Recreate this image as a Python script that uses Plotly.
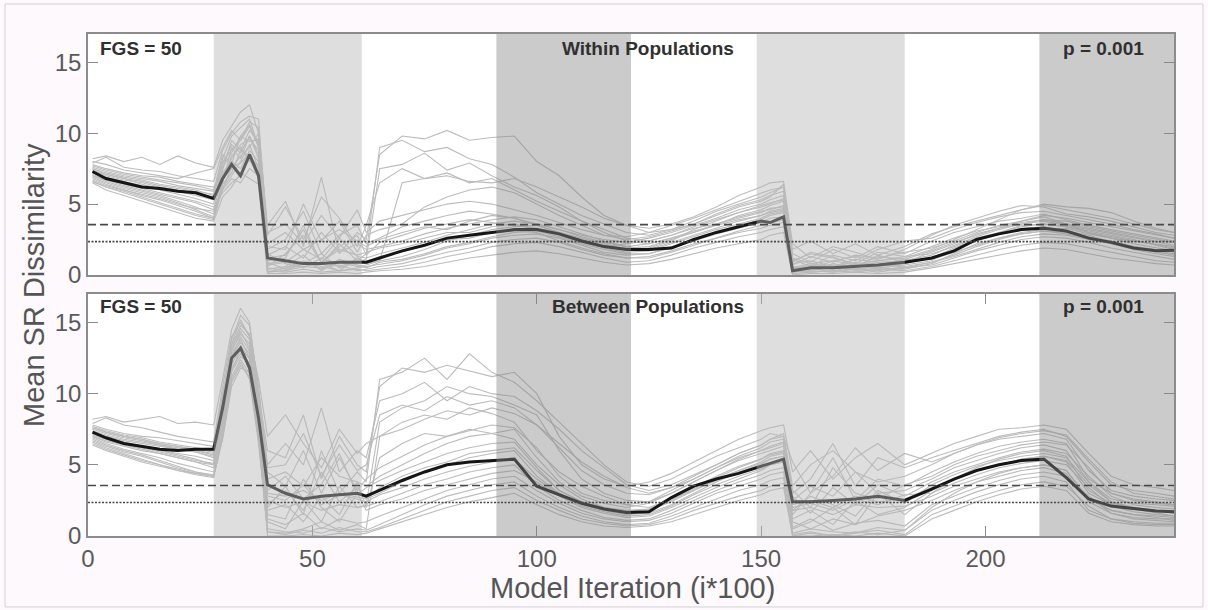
import plotly.graph_objects as go

# ---------------- data ----------------
iteration = [1, 4, 8, 12, 16, 20, 24,
             28, 30, 32, 34, 36, 38, 40,
             44, 48, 52, 56, 60,
             62, 65,
             70, 75, 80, 85, 90, 95, 100, 105, 110, 115, 120, 125, 130, 135, 140, 145, 150,
             152, 155, 157, 161, 166, 171, 176, 182,
             188, 193, 198, 203, 208, 213, 218, 223, 228, 233, 238, 242]

within_mean = [7.3, 6.8, 6.5, 6.2, 6.1, 5.9, 5.8,
               5.4, 6.8, 7.8, 7.0, 8.5, 7.0, 1.2,
               1.0, 0.8, 0.8, 0.9, 0.9,
               0.9, 1.2,
               1.7, 2.1, 2.6, 2.8, 3.0, 3.2, 3.2, 2.9, 2.4, 2.0, 1.8, 1.8, 1.9, 2.5, 3.0, 3.4, 3.8,
               3.7, 4.1, 0.3, 0.5, 0.5, 0.6, 0.7, 0.9,
               1.2, 1.7, 2.5, 2.9, 3.2, 3.3, 3.1, 2.6, 2.3, 1.9, 1.7, 1.75]

between_mean = [7.3, 6.9, 6.5, 6.3, 6.1, 6.0, 6.1,
                6.1, 9.0, 12.5, 13.2, 11.8, 8.3, 3.6,
                3.0, 2.6, 2.8, 2.9, 3.0,
                2.8, 3.2,
                3.9, 4.5, 5.0, 5.2, 5.3, 5.4, 3.5, 2.9, 2.3, 1.9, 1.65, 1.7, 2.7, 3.5, 4.0, 4.4, 4.9,
                5.1, 5.4, 2.4, 2.4, 2.5, 2.6, 2.8, 2.5,
                3.3, 4.0, 4.6, 5.0, 5.3, 5.4, 4.1, 2.6, 2.1, 1.9, 1.75, 1.7]

within_runs = [
    [8.2, 8.4, 8.0, 8.3, 7.8, 8.4, 7.9, 7.6, 9.5, 10.5, 11.5, 12.0, 10.0, 3.5, 5.2, 2.0, 6.9, 1.5, 3.0, 2.5, 8.5,
     9.8, 9.6, 10.2, 9.5, 9.7, 9.8, 8.0, 7.0, 5.5, 4.2, 3.5, 3.0, 3.2, 3.8, 4.5, 5.0, 5.5,
     5.8, 6.2, 1.2, 0.8, 1.0, 1.3, 1.0, 1.2, 1.8, 2.5, 3.2, 3.9, 4.6, 5.0, 4.8, 4.7, 4.4, 3.8, 3.3, 3.0],
    [7.5, 7.2, 6.9, 6.7, 6.4, 6.2, 6.0, 5.6, 8.0, 8.8, 9.5, 10.5, 9.0, 1.0, 1.2, 3.5, 0.8, 2.2, 1.0, 1.5, 9.0,
     9.5, 8.7, 9.0, 8.2, 7.8, 6.9, 5.8, 5.0, 4.2, 3.6, 3.0, 2.8, 3.2, 3.6, 4.2, 4.8, 5.2,
     5.5, 6.4, 0.6, 0.3, 0.8, 0.5, 1.4, 0.9, 1.6, 2.2, 2.9, 3.3, 3.8, 4.1, 3.6, 3.0, 2.6, 2.4, 2.2, 2.0],
    [7.0, 6.6, 6.2, 5.9, 5.6, 5.2, 4.8, 4.3, 6.5, 9.0, 8.2, 9.8, 8.5, 0.5, 0.3, 0.8, 1.5, 0.5, 0.9, 1.1, 7.5,
     7.8, 8.6, 7.4, 7.9, 7.0, 6.2, 5.6, 4.8, 3.8, 3.2, 2.6, 2.4, 2.8, 3.4, 3.9, 4.4, 4.8,
     5.0, 5.4, 0.2, 0.6, 0.4, 0.8, 0.5, 0.7, 1.0, 1.8, 2.4, 3.0, 3.5, 3.6, 3.4, 3.1, 2.8, 2.5, 2.1, 1.8],
    [6.6, 6.2, 5.8, 5.4, 5.0, 4.6, 4.2, 3.9, 6.2, 7.0, 8.0, 9.2, 7.5, 0.2, 0.5, 1.0, 0.4, 0.9, 0.6, 0.7, 1.0,
     6.5, 6.8, 7.2, 6.5, 6.8, 6.0, 5.2, 4.5, 3.8, 3.0, 2.4, 2.2, 2.6, 3.0, 3.6, 4.1, 4.5,
     4.6, 4.9, 0.5, 0.2, 0.3, 0.6, 0.9, 0.5, 0.9, 1.4, 2.0, 2.5, 2.9, 3.1, 3.0, 2.7, 2.4, 2.0, 1.7, 1.5],
    [7.8, 7.5, 7.2, 7.0, 6.9, 6.6, 6.4, 6.2, 7.2, 8.0, 7.5, 8.8, 8.0, 2.2, 3.0, 1.8, 2.5, 3.2, 2.4, 2.0, 2.5,
     3.0, 3.4, 3.2, 3.8, 4.2, 4.0, 3.5, 3.0, 2.5, 2.0, 2.2, 2.4, 2.8, 3.3, 3.6, 4.0, 4.4,
     4.7, 4.8, 1.0, 1.5, 1.2, 0.8, 1.6, 1.3, 2.0, 2.6, 3.1, 3.4, 3.7, 3.9, 3.6, 3.3, 3.0, 2.7, 2.4, 2.3],
    [7.2, 6.9, 6.6, 6.3, 6.0, 5.7, 5.4, 5.0, 7.4, 9.5, 8.8, 10.2, 9.4, 1.5, 0.8, 0.5, 1.2, 0.6, 1.0, 0.8, 1.0,
     1.3, 1.8, 2.4, 2.8, 3.2, 3.4, 3.5, 3.0, 2.5, 2.1, 1.9, 2.0, 2.5, 3.0, 3.5, 3.9, 4.2,
     4.4, 4.6, 0.4, 0.7, 0.5, 0.4, 0.6, 0.8, 1.2, 1.9, 2.5, 2.9, 3.3, 3.4, 3.1, 2.8, 2.3, 2.0, 1.8, 1.6],
    [7.4, 7.0, 6.7, 6.5, 6.2, 6.0, 5.8, 5.4, 6.8, 7.5, 8.4, 9.0, 10.0, 0.8, 1.0, 0.6, 0.8, 0.3, 0.5, 0.6, 0.8,
     1.0, 1.4, 1.9, 2.2, 2.6, 2.8, 2.9, 2.6, 2.1, 1.6, 1.4, 1.5, 1.9, 2.4, 2.9, 3.3, 3.7,
     4.0, 4.1, 0.3, 0.5, 0.2, 0.5, 0.3, 0.6, 0.9, 1.3, 1.8, 2.3, 2.7, 2.9, 2.8, 2.5, 2.2, 1.9, 1.6, 1.4],
    [6.9, 6.5, 6.1, 5.8, 5.5, 5.1, 4.6, 4.1, 6.0, 6.8, 6.5, 7.5, 7.0, 0.3, 0.2, 0.4, 0.2, 0.3, 0.4, 0.3, 0.4,
     0.6, 0.9, 1.3, 1.6, 2.0, 2.2, 2.3, 2.0, 1.6, 1.2, 0.9, 1.0, 1.4, 1.9, 2.3, 2.7, 3.0,
     3.2, 3.4, 0.1, 0.2, 0.3, 0.2, 0.4, 0.3, 0.6, 1.0, 1.4, 1.8, 2.1, 2.3, 2.2, 1.9, 1.6, 1.3, 1.0, 0.9],
    [7.6, 7.3, 7.0, 6.8, 6.6, 6.3, 6.1, 5.9, 8.5, 7.8, 9.8, 9.4, 9.6, 1.8, 2.5, 4.5, 1.5, 2.8, 3.5, 2.2, 2.6,
     3.4, 3.8, 4.2, 4.5, 4.3, 4.0, 3.6, 3.2, 2.8, 2.5, 2.3, 2.6, 3.0, 3.5, 4.0, 4.6, 5.0,
     5.3, 5.6, 1.5, 0.9, 1.8, 1.2, 2.0, 1.5, 2.4, 3.0, 3.4, 3.8, 4.0, 4.3, 3.9, 3.5, 3.2, 2.9, 2.6, 2.4],
    [7.1, 6.7, 6.4, 6.1, 5.8, 5.5, 5.2, 4.8, 5.8, 6.5, 7.0, 8.2, 6.8, 0.6, 1.5, 2.8, 0.9, 1.8, 1.4, 1.6, 1.9,
     2.2, 2.6, 3.0, 3.0, 3.4, 3.6, 3.2, 2.8, 2.3, 1.9, 1.6, 1.7, 2.2, 2.7, 3.2, 3.6, 4.0,
     4.3, 4.5, 0.8, 1.0, 0.6, 1.1, 0.9, 1.0, 1.4, 2.1, 2.7, 3.2, 3.6, 3.8, 3.5, 3.2, 2.9, 2.6, 2.3, 2.1],
    [7.9, 8.3, 7.6, 7.4, 7.3, 7.0, 6.8, 6.6, 8.8, 10.0, 10.8, 11.2, 11.0, 2.8, 4.8, 2.5, 5.5, 4.0, 2.0, 3.5, 6.5,
     7.5, 6.8, 7.0, 6.6, 6.5, 6.8, 6.2, 5.5, 4.8, 4.0, 3.5, 3.3, 3.6, 4.1, 4.8, 5.6, 6.2,
     6.5, 6.6, 2.2, 1.2, 2.0, 1.6, 1.1, 1.8, 2.8, 3.5, 4.0, 4.5, 4.9, 4.8, 4.3, 4.1, 3.8, 3.4, 3.0, 2.8],
    [6.5, 6.0, 5.6, 5.2, 4.8, 4.4, 4.0, 3.8, 5.5, 6.2, 7.2, 6.8, 6.4, 0.1, 0.1, 0.2, 0.1, 0.2, 0.1, 0.2, 0.3,
     0.4, 0.6, 0.9, 1.2, 1.4, 1.6, 1.7, 1.5, 1.2, 0.9, 0.7, 0.8, 1.1, 1.5, 1.9, 2.2, 2.5,
     2.8, 3.0, 0.0, 0.1, 0.1, 0.2, 0.1, 0.2, 0.5, 0.8, 1.1, 1.4, 1.7, 1.9, 1.8, 1.5, 1.2, 1.0, 0.8, 0.7],
    [7.7, 7.4, 7.1, 6.9, 6.7, 6.5, 6.3, 6.0, 7.8, 9.2, 8.6, 9.8, 8.2, 1.4, 2.0, 1.2, 3.0, 1.6, 2.2, 1.8, 2.0,
     2.4, 2.9, 3.3, 3.6, 3.9, 4.1, 3.9, 3.4, 2.9, 2.4, 2.0, 2.2, 2.6, 3.1, 3.5, 4.2, 4.6,
     4.9, 5.2, 0.7, 1.3, 0.9, 1.4, 1.2, 1.6, 1.9, 2.4, 3.0, 3.5, 3.8, 4.2, 4.0, 3.7, 3.4, 3.1, 2.8, 2.6],
    [6.8, 6.4, 6.0, 5.6, 5.3, 4.9, 4.5, 4.0, 6.6, 8.4, 9.0, 8.0, 7.8, 0.4, 0.6, 1.4, 0.3, 1.1, 0.7, 0.5, 0.9,
     1.1, 1.5, 2.0, 2.3, 2.7, 3.0, 3.1, 2.7, 2.2, 1.8, 1.5, 1.5, 2.0, 2.5, 3.0, 3.5, 3.9,
     4.2, 4.4, 0.2, 0.4, 0.7, 0.3, 0.5, 0.4, 0.8, 1.5, 2.2, 2.6, 3.0, 3.2, 3.3, 2.9, 2.6, 2.2, 1.9, 1.7],
    [7.3, 7.1, 6.8, 6.6, 6.3, 6.1, 5.9, 5.7, 8.2, 9.8, 10.4, 11.0, 9.0, 2.0, 1.8, 5.0, 2.4, 3.8, 1.6, 2.8, 3.2,
     3.6, 4.8, 5.5, 6.0, 6.2, 5.8, 5.0, 4.2, 3.5, 2.8, 2.5, 2.7, 3.1, 3.6, 4.3, 4.9, 5.3,
     5.6, 5.9, 1.1, 0.6, 1.4, 1.0, 1.8, 2.4, 2.6, 3.2, 3.7, 4.1, 4.4, 4.5, 4.2, 3.9, 3.6, 3.2, 2.9, 2.6],
    [6.7, 6.3, 6.0, 5.7, 5.4, 5.0, 4.7, 4.5, 6.0, 7.6, 7.9, 8.6, 7.2, 0.9, 0.4, 0.9, 0.6, 0.3, 1.2, 0.9, 1.3,
     1.6, 2.1, 2.5, 2.6, 3.0, 3.1, 3.0, 2.4, 1.9, 1.5, 1.2, 1.3, 1.7, 2.2, 2.6, 3.1, 3.5,
     3.7, 3.9, 0.5, 0.8, 0.6, 0.9, 0.7, 1.1, 1.1, 1.6, 2.1, 2.6, 2.9, 3.1, 2.9, 2.6, 2.2, 1.8, 1.5, 1.3],
    [8.0, 7.8, 7.4, 7.2, 7.0, 6.8, 7.2, 7.5, 9.0, 10.2, 9.5, 10.8, 10.4, 3.0, 3.6, 2.2, 4.2, 2.6, 4.6, 3.0, 3.8,
     4.2, 4.6, 5.0, 5.2, 5.0, 4.6, 4.2, 3.7, 3.2, 2.8, 2.7, 3.0, 3.5, 4.0, 4.6, 5.2, 5.8,
     6.0, 6.2, 1.8, 2.4, 1.5, 2.2, 1.4, 2.0, 2.9, 3.4, 3.8, 4.2, 4.6, 4.9, 4.6, 4.3, 4.0, 3.6, 3.2, 3.0],
    [7.0, 6.7, 6.3, 6.0, 5.7, 5.4, 5.1, 4.6, 7.0, 8.2, 9.2, 9.6, 8.8, 0.7, 0.9, 1.8, 1.1, 2.6, 1.3, 1.2, 1.5,
     1.9, 2.3, 2.8, 3.2, 3.6, 3.8, 3.6, 3.2, 2.7, 2.3, 2.0, 1.8, 2.3, 2.8, 3.3, 3.8, 4.2,
     4.5, 4.7, 0.6, 0.4, 1.0, 0.7, 1.0, 1.3, 1.5, 2.0, 2.6, 3.0, 3.4, 3.6, 3.4, 3.0, 2.7, 2.4, 2.1, 1.9],
    [6.6, 6.2, 5.9, 5.5, 5.1, 4.7, 4.3, 4.0, 6.4, 7.2, 8.8, 8.4, 7.6, 0.2, 0.3, 0.6, 0.5, 0.7, 0.3, 0.4, 0.6,
     0.8, 1.2, 1.6, 1.9, 2.3, 2.5, 2.6, 2.3, 1.8, 1.4, 1.2, 1.2, 1.6, 2.1, 2.6, 3.0, 3.3,
     3.5, 3.7, 0.2, 0.3, 0.2, 0.4, 0.2, 0.5, 0.7, 1.2, 1.7, 2.1, 2.5, 2.7, 2.6, 2.3, 1.9, 1.6, 1.3, 1.1],
    [7.5, 7.1, 6.8, 6.4, 6.1, 5.9, 5.6, 5.3, 7.6, 8.6, 9.8, 10.6, 9.2, 1.2, 1.4, 3.2, 0.9, 2.0, 2.8, 1.4, 2.3,
     2.8, 3.3, 3.6, 3.9, 3.7, 3.5, 3.3, 3.0, 2.6, 2.2, 1.8, 1.9, 2.4, 3.2, 3.8, 4.4, 4.9,
     5.1, 5.3, 0.9, 1.6, 1.3, 0.6, 1.3, 1.1, 1.7, 2.3, 2.8, 3.3, 3.6, 3.9, 3.8, 3.4, 3.1, 2.8, 2.5, 2.3],
]

between_runs = [
    [8.2, 8.4, 8.0, 8.2, 8.4, 7.9, 8.0, 7.8, 11.0, 14.5, 16.0, 15.0, 10.0, 6.0, 5.5, 8.5, 4.0, 7.0, 5.0, 4.5, 10.5,
     11.8, 11.5, 12.0, 11.6, 11.2, 11.5, 10.0, 7.0, 5.0, 4.0, 3.5, 3.8, 4.4, 5.2, 6.0, 6.8, 7.4,
     7.6, 7.8, 4.5, 6.0, 4.0, 5.5, 6.5, 5.0, 5.8, 6.5, 7.0, 7.5, 7.6, 7.8, 7.5, 5.8, 4.2, 3.6, 3.4, 3.2],
    [7.6, 7.3, 7.0, 6.8, 6.5, 6.3, 6.0, 5.8, 9.5, 13.5, 15.2, 14.0, 9.0, 2.0, 3.5, 1.5, 6.0, 3.0, 4.5, 3.8, 11.0,
     11.5, 12.5, 11.0, 12.8, 11.5, 10.8, 9.5, 8.0, 6.5, 5.0, 3.8, 3.5, 4.0, 4.8, 5.6, 6.2, 6.8,
     7.2, 7.0, 1.5, 3.0, 5.5, 2.5, 4.0, 3.5, 4.5, 5.2, 5.8, 6.3, 6.6, 6.8, 6.5, 4.0, 3.0, 2.6, 2.4, 2.2],
    [7.2, 6.9, 6.6, 6.3, 6.0, 5.7, 5.4, 5.0, 8.5, 12.5, 14.0, 13.0, 8.0, 1.0, 0.5, 2.5, 1.0, 3.5, 2.0, 2.2, 8.0,
     9.0, 9.5, 10.5, 10.0, 9.8, 9.2, 8.5, 6.0, 4.0, 3.0, 2.5, 2.4, 3.0, 3.8, 4.6, 5.4, 6.0,
     6.2, 6.5, 0.5, 1.0, 2.0, 0.8, 3.0, 1.5, 3.0, 4.0, 4.8, 5.4, 5.8, 6.0, 5.6, 3.2, 2.3, 2.0, 1.8, 1.6],
    [6.8, 6.4, 6.0, 5.7, 5.3, 4.9, 4.5, 4.2, 7.5, 11.5, 13.2, 12.0, 7.0, 0.3, 0.2, 0.5, 1.0, 0.4, 0.8, 0.5, 7.0,
     8.0, 8.5, 8.2, 9.0, 8.6, 8.0, 6.0, 4.5, 3.5, 2.8, 2.2, 2.0, 2.6, 3.2, 4.0, 4.6, 5.2,
     5.6, 5.8, 0.0, 0.2, 0.0, 0.3, 0.1, 0.4, 2.0, 3.0, 3.8, 4.4, 4.8, 5.0, 4.6, 2.6, 1.8, 1.5, 1.3, 1.1],
    [7.8, 7.5, 7.2, 7.0, 6.9, 6.7, 6.5, 6.3, 10.0, 13.0, 14.2, 13.5, 9.5, 4.0, 4.5, 3.5, 5.5, 4.2, 3.8, 3.5, 4.2,
     5.0, 5.8, 6.5, 7.0, 7.2, 7.5, 5.5, 3.8, 2.8, 2.3, 2.0, 2.3, 3.0, 3.8, 4.6, 5.3, 5.8,
     6.0, 6.3, 2.5, 3.5, 2.8, 4.5, 3.0, 3.2, 4.0, 4.8, 5.3, 5.8, 6.2, 6.4, 6.0, 3.8, 2.6, 2.3, 2.2, 2.1],
    [7.3, 7.0, 6.7, 6.5, 6.3, 6.1, 5.9, 5.6, 9.0, 12.8, 13.8, 12.5, 8.5, 3.0, 2.8, 3.2, 2.5, 3.0, 2.7, 2.6, 3.0,
     3.8, 4.5, 5.0, 5.5, 5.8, 6.0, 4.2, 3.0, 2.2, 1.8, 1.5, 1.6, 2.2, 3.0, 3.8, 4.5, 5.0,
     5.4, 5.6, 2.2, 2.5, 2.0, 2.8, 2.4, 2.6, 3.4, 4.0, 4.6, 5.0, 5.4, 5.6, 5.2, 3.0, 2.2, 1.9, 1.8, 1.7],
    [7.0, 6.6, 6.3, 6.0, 5.8, 5.5, 5.2, 4.8, 8.0, 11.8, 12.8, 12.0, 7.5, 2.5, 2.0, 2.4, 1.8, 2.2, 2.0, 2.1, 2.4,
     3.0, 3.6, 4.0, 4.5, 4.8, 5.0, 3.5, 2.5, 1.8, 1.3, 1.1, 1.2, 1.8, 2.5, 3.2, 3.8, 4.3,
     4.6, 4.8, 1.8, 2.0, 1.5, 2.2, 2.0, 2.1, 2.8, 3.5, 4.0, 4.5, 4.8, 5.0, 4.6, 2.6, 1.8, 1.5, 1.4, 1.3],
    [6.6, 6.2, 5.8, 5.4, 5.0, 4.6, 4.3, 4.1, 7.0, 11.0, 12.2, 11.0, 6.5, 0.5, 0.3, 0.2, 0.6, 0.3, 0.5, 0.4, 0.8,
     1.5, 2.2, 2.8, 3.2, 3.6, 3.8, 2.8, 2.0, 1.4, 1.0, 0.8, 0.9, 1.4, 2.0, 2.6, 3.2, 3.6,
     3.9, 4.1, 0.2, 0.5, 0.3, 0.2, 0.6, 0.4, 1.8, 2.5, 3.1, 3.6, 4.0, 4.2, 3.8, 1.8, 1.2, 1.0, 0.9, 0.9],
    [7.5, 7.2, 6.9, 6.7, 6.4, 6.2, 6.0, 5.7, 9.8, 13.8, 15.5, 14.8, 10.5, 5.0, 6.5, 5.0, 9.0, 4.5, 6.0, 5.5, 9.5,
     10.0, 10.8, 9.5, 10.5, 10.0, 9.8, 8.8, 7.5, 6.0, 4.8, 3.6, 3.2, 3.6, 4.3, 5.0, 5.8, 6.4,
     6.8, 7.2, 3.5, 5.0, 6.0, 4.5, 3.8, 4.2, 5.0, 5.8, 6.4, 6.8, 7.0, 7.2, 6.8, 4.6, 3.2, 2.8, 2.6, 2.5],
    [7.1, 6.8, 6.4, 6.2, 5.9, 5.6, 5.3, 5.1, 8.2, 12.2, 13.0, 12.6, 8.0, 1.5, 1.2, 4.0, 2.0, 1.0, 3.0, 1.8, 2.2,
     2.6, 3.2, 3.6, 4.0, 4.4, 4.6, 3.8, 2.8, 2.0, 1.6, 1.3, 1.4, 2.0, 2.7, 3.4, 4.0, 4.6,
     5.0, 5.2, 1.0, 0.5, 1.2, 0.8, 1.4, 1.8, 2.5, 3.2, 3.8, 4.2, 4.6, 4.8, 4.4, 2.4, 1.6, 1.3, 1.2, 1.2],
    [7.9, 8.3, 7.8, 7.6, 7.3, 7.0, 6.8, 6.6, 10.5, 14.0, 15.0, 14.0, 11.0, 7.0, 8.5, 6.5, 4.8, 7.5, 5.8, 6.5, 7.0,
     7.5, 8.2, 8.8, 8.5, 9.0, 8.6, 7.8, 6.5, 5.2, 4.2, 3.4, 3.0, 3.4, 4.0, 4.8, 5.6, 6.2,
     6.6, 6.8, 3.0, 4.0, 6.5, 3.5, 5.5, 4.8, 5.5, 6.0, 6.5, 7.0, 7.3, 7.5, 7.0, 5.2, 3.6, 3.2, 3.0, 2.8],
    [6.4, 6.0, 5.6, 5.2, 4.9, 4.6, 4.4, 4.2, 6.8, 10.5, 11.8, 11.5, 7.2, 0.0, 0.0, 0.1, 0.0, 0.2, 0.1, 0.2, 0.5,
     1.0, 1.5, 2.0, 2.4, 2.7, 3.0, 2.2, 1.5, 1.0, 0.7, 0.6, 0.7, 1.0, 1.5, 2.0, 2.5, 2.9,
     3.2, 3.4, 0.0, 0.0, 0.1, 0.0, 0.2, 0.0, 1.2, 1.8, 2.4, 2.9, 3.3, 3.5, 3.2, 1.6, 1.0, 0.8, 0.7, 0.7],
    [7.7, 7.4, 7.1, 6.9, 6.6, 6.4, 6.2, 6.0, 9.2, 13.2, 14.6, 13.8, 9.8, 4.5, 3.5, 6.0, 3.0, 5.5, 3.2, 4.0, 4.8,
     5.6, 6.4, 7.0, 7.4, 7.8, 7.6, 6.2, 4.2, 3.0, 2.5, 2.2, 2.4, 3.2, 4.0, 4.8, 5.5, 6.0,
     6.3, 6.6, 3.2, 2.0, 4.8, 3.0, 2.6, 3.6, 4.2, 5.0, 5.6, 6.0, 6.4, 6.6, 6.4, 4.8, 3.0, 2.5, 2.3, 2.2],
    [6.9, 6.5, 6.1, 5.8, 5.5, 5.1, 4.8, 4.5, 7.8, 11.6, 12.6, 12.2, 7.8, 1.8, 2.2, 1.0, 2.8, 1.5, 3.8, 2.0, 5.5,
     6.5, 7.2, 7.0, 7.5, 7.2, 6.8, 5.0, 3.6, 2.6, 2.0, 1.8, 1.9, 2.5, 3.3, 4.1, 4.8, 5.4,
     5.7, 5.9, 1.2, 1.8, 0.8, 2.5, 1.5, 2.0, 3.2, 4.0, 4.6, 5.0, 5.4, 5.6, 5.3, 3.6, 2.4, 1.9, 1.6, 1.4],
    [7.4, 7.1, 6.8, 6.6, 6.4, 6.1, 5.9, 5.5, 9.2, 13.0, 14.4, 13.2, 9.0, 3.2, 4.2, 2.6, 3.6, 5.8, 2.9, 3.4, 3.9,
     4.6, 5.2, 5.8, 6.2, 6.5, 6.6, 4.8, 3.2, 2.4, 2.0, 1.7, 1.9, 2.6, 3.4, 4.2, 4.9, 5.4,
     5.8, 6.0, 2.8, 1.6, 3.4, 2.2, 3.6, 2.8, 3.8, 4.5, 5.0, 5.5, 5.9, 6.1, 5.8, 4.2, 2.8, 2.2, 2.0, 1.9],
    [6.7, 6.3, 5.9, 5.6, 5.2, 4.8, 4.5, 4.3, 7.2, 11.2, 12.4, 11.4, 6.8, 1.2, 0.8, 1.6, 0.5, 1.2, 0.9, 1.0, 1.4,
     2.0, 2.6, 3.2, 3.6, 4.0, 4.2, 3.2, 2.3, 1.6, 1.2, 1.0, 1.1, 1.6, 2.3, 3.0, 3.5, 4.0,
     4.3, 4.5, 0.6, 1.2, 0.4, 0.9, 1.1, 0.7, 2.2, 2.8, 3.4, 3.9, 4.3, 4.5, 4.2, 2.8, 1.6, 1.2, 1.1, 1.0],
    [7.6, 7.3, 7.0, 6.8, 6.5, 6.3, 6.1, 5.9, 9.5, 13.4, 14.8, 14.2, 9.8, 4.8, 5.0, 7.2, 4.2, 6.4, 4.6, 5.0, 8.5,
     9.2, 8.8, 9.8, 9.2, 9.5, 9.0, 7.8, 6.2, 4.6, 3.6, 3.0, 2.9, 3.4, 4.2, 5.0, 5.8, 6.4,
     6.8, 7.0, 5.2, 3.0, 4.2, 6.2, 4.6, 5.8, 5.2, 5.8, 6.4, 6.9, 7.2, 7.4, 7.1, 5.4, 3.8, 3.0, 2.8, 2.6],
    [7.2, 6.9, 6.5, 6.2, 6.0, 5.8, 5.6, 5.3, 8.8, 12.6, 13.6, 12.8, 8.4, 2.2, 3.2, 1.8, 4.5, 2.4, 3.4, 2.6, 3.4,
     4.2, 4.8, 5.2, 5.8, 6.0, 6.2, 4.6, 3.2, 2.4, 1.9, 1.6, 1.8, 2.4, 3.2, 3.9, 4.6, 5.1,
     5.4, 5.6, 1.8, 2.8, 2.2, 1.4, 3.2, 2.3, 3.6, 4.3, 4.9, 5.3, 5.6, 5.8, 5.5, 3.8, 2.4, 2.0, 1.8, 1.6],
    [6.5, 6.1, 5.7, 5.3, 5.0, 4.7, 4.4, 4.2, 6.9, 10.8, 12.0, 11.2, 6.8, 0.3, 0.1, 0.4, 0.2, 0.6, 0.3, 0.3, 0.6,
     1.2, 1.8, 2.4, 2.8, 3.2, 3.4, 2.5, 1.8, 1.2, 0.9, 0.7, 0.8, 1.2, 1.8, 2.3, 2.8, 3.2,
     3.5, 3.7, 0.1, 0.3, 0.0, 0.2, 0.4, 0.1, 1.5, 2.1, 2.7, 3.2, 3.6, 3.8, 3.5, 2.1, 1.2, 0.9, 0.8, 0.8],
    [7.0, 6.7, 6.4, 6.1, 5.8, 5.5, 5.2, 5.0, 8.6, 12.0, 13.4, 12.4, 7.8, 2.8, 2.5, 3.6, 2.2, 2.9, 2.6, 2.4, 2.9,
     3.4, 4.0, 4.5, 4.9, 5.2, 5.4, 4.0, 2.9, 2.1, 1.7, 1.4, 1.5, 2.1, 2.9, 3.6, 4.2, 4.7,
     5.0, 5.2, 2.0, 2.3, 1.8, 2.6, 2.2, 2.9, 3.0, 3.7, 4.3, 4.8, 5.1, 5.3, 5.0, 3.4, 2.1, 1.7, 1.5, 1.4],
]

shade_start = [28, 91, 149, 212]
shade_end = [61, 121, 182, 242]
shade_kind = ["light", "dark", "light", "dark"]
upper_threshold = 3.55
lower_threshold = 2.35
panel_titles = ["Within Populations", "Between Populations"]
x_ticks = [0, 50, 100, 150, 200]
y_ticks = [0, 5, 10, 15]

# ---------------- figure ----------------
FONT = "Liberation Sans, Arial, Helvetica, sans-serif"
fig = go.Figure()

panels = [("x", "y", within_mean, within_runs), ("x2", "y2", between_mean, between_runs)]
for xa, ya, mean, runs in panels:
    for r in runs:
        fig.add_trace(go.Scatter(x=iteration, y=r, mode="lines", xaxis=xa, yaxis=ya,
                                 line=dict(color="#bcbcbc", width=1.1), showlegend=False,
                                 hoverinfo="skip"))
    fig.add_trace(go.Scatter(x=iteration, y=mean, mode="lines", xaxis=xa, yaxis=ya,
                             line=dict(color="#151515", width=3), showlegend=False))

shapes = []
fills = {"light": "rgba(181,181,181,0.45)", "dark": "rgba(135,135,135,0.43)"}
for xa, ya in [("x", "y"), ("x2", "y2")]:
    for s0, s1, k in zip(shade_start, shade_end, shade_kind):
        shapes.append(dict(type="rect", xref=xa, yref=ya + " domain", x0=s0, x1=s1, y0=0, y1=1,
                           fillcolor=fills[k], line=dict(width=0), layer="above"))
    shapes.append(dict(type="line", xref=xa + " domain", yref=ya, x0=0, x1=1,
                       y0=upper_threshold, y1=upper_threshold, layer="above",
                       line=dict(color="#4a4a4a", width=1.6, dash="8px,4px")))
    shapes.append(dict(type="line", xref=xa + " domain", yref=ya, x0=0, x1=1,
                       y0=lower_threshold, y1=lower_threshold, layer="above",
                       line=dict(color="#4a4a4a", width=1.6, dash="2px,1.5px")))

# outer frame of the picture
shapes.append(dict(type="rect", xref="paper", yref="paper", x0=-0.0764, x1=1.0267,
                   y0=-0.1414, y1=1.0598, fillcolor="rgba(0,0,0,0)",
                   line=dict(color="#d2d2d2", width=1), layer="above"))

annotations = []
for xa, ya, title, yy in [("x", "y", panel_titles[0], 0.938), ("x2", "y2", panel_titles[1], 0.95)]:
    common = dict(xref=xa + " domain", yref=ya + " domain", y=yy, yanchor="middle",
                  showarrow=False, font=dict(family=FONT, size=19, color="#303030"))
    annotations.append(dict(text="<b>FGS = 50</b>", x=0.009, xanchor="left", **common))
    annotations.append(dict(text="<b>" + title + "</b>", x=0.516, xanchor="center", **common))
    annotations.append(dict(text="<b>p = 0.001</b>", x=0.974, xanchor="right", **common))

annotations.append(dict(text="Mean SR Dissimilarity", xref="paper", yref="paper",
                        x=-0.0497, y=0.5, xanchor="center", yanchor="middle", textangle=-90,
                        showarrow=False, font=dict(family=FONT, size=29, color="#555555")))
annotations.append(dict(text="Model Iteration (i*100)", xref="paper", yref="paper",
                        x=0.501, y=-0.1036, xanchor="center", yanchor="middle",
                        showarrow=False, font=dict(family=FONT, size=29, color="#555555")))

axis_common = dict(showline=True, linecolor="#8c8c8c", linewidth=1.5, showgrid=False,
                   zeroline=False, ticklen=10, tickwidth=1.3, tickcolor="#8c8c8c",
                   tickfont=dict(family=FONT, size=24, color="#5a5a5a"))

fig.update_layout(
    width=1208, height=610,
    margin=dict(l=88, r=34, t=34, b=74),
    paper_bgcolor="#fdf9fd", plot_bgcolor="#ffffff",
    showlegend=False,
    xaxis=dict(domain=[0, 1], anchor="y", range=[0, 242], tickvals=x_ticks, showticklabels=False,
               mirror=True, ticks="", **axis_common),
    yaxis=dict(domain=[0.520, 1], anchor="x", range=[0, 17], tickvals=y_ticks, mirror="ticks",
               ticks="inside", **axis_common),
    xaxis2=dict(domain=[0, 1], anchor="y2", range=[0, 242], tickvals=x_ticks, mirror="ticks",
                ticks="inside", **axis_common),
    yaxis2=dict(domain=[0, 0.482], anchor="x2", range=[0, 17], tickvals=y_ticks, mirror="ticks",
                ticks="inside", **axis_common),
    shapes=shapes,
    annotations=annotations,
)

fig.write_html("out.html", config={"displayModeBar": False},
               post_script="document.body.style.margin='0px';")
